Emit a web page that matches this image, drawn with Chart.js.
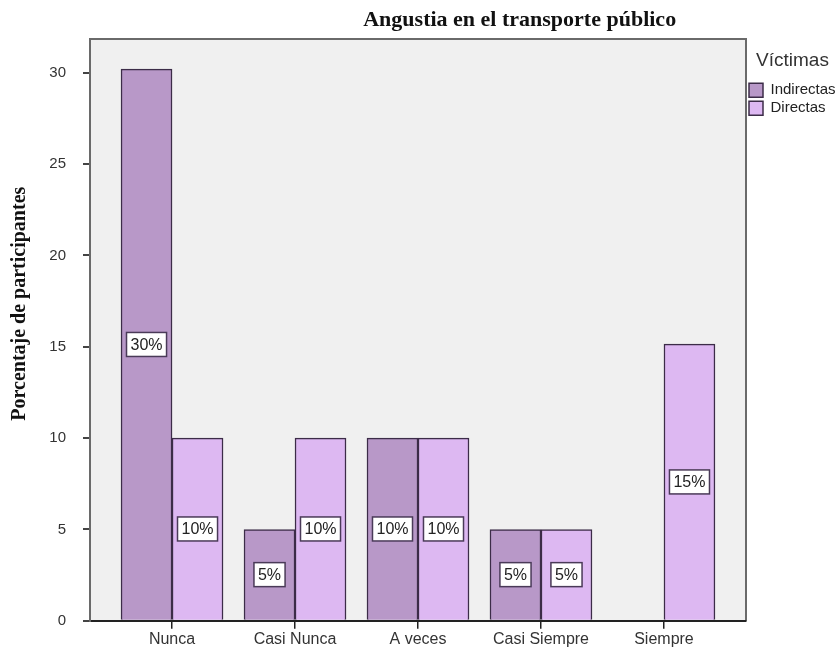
<!DOCTYPE html>
<html><head><meta charset="utf-8">
<script src="https://cdn.jsdelivr.net/npm/chart.js@4"></script>
<style>html,body{margin:0;padding:0;background:#fff}</style>
</head><body>
<canvas id="c" width="839" height="650"></canvas>
<script>
const categories = ['Nunca', 'Casi Nunca', 'A veces', 'Casi Siempre', 'Siempre'];
const indirectas = [30.2, 5, 10, 5, 0];
const directas = [10, 10, 10, 5, 15.15];
const indirectasLabels = ['30%', '5%', '10%', '5%', ''];
const directasLabels = ['10%', '10%', '10%', '5%', '15%'];
const yTicks = [0, 5, 10, 15, 20, 25, 30];
const chartTitle = 'Angustia en el transporte público';
const legendTitle = 'Víctimas';
const yTitle = 'Porcentaje de participantes';

const sans = "'Liberation Sans', Arial, sans-serif";
const serif = "'Liberation Serif', 'Times New Roman', serif";

const bgPlugin = {
  id: 'plotBg',
  beforeDraw(chart) {
    const {ctx, chartArea: a} = chart;
    ctx.save();
    ctx.fillStyle = '#f0f0f0';
    ctx.fillRect(a.left, a.top, a.right - a.left, a.bottom - a.top);
    ctx.strokeStyle = '#6a6a6a';
    ctx.lineWidth = 2;
    ctx.beginPath();
    ctx.moveTo(a.left, a.bottom);
    ctx.lineTo(a.left, a.top);
    ctx.lineTo(a.right, a.top);
    ctx.lineTo(a.right, a.bottom);
    ctx.stroke();
    ctx.restore();
  },
  afterDraw(chart) {
    const {ctx, chartArea: a} = chart;
    ctx.save();
    ctx.font = 'bold 22px ' + serif;
    ctx.fillStyle = '#111';
    ctx.textAlign = 'center';
    ctx.textBaseline = 'middle';
    ctx.fillText(chartTitle, a.left + (a.right - a.left) * 0.655, 20);
    // y-axis title
    ctx.translate(20, a.top + (a.bottom - a.top) * 0.455);
    ctx.rotate(-Math.PI / 2);
    ctx.font = 'bold 20px ' + serif;
    ctx.fillText(yTitle, 0, 0);
    ctx.restore();
  }
};

const labelPlugin = {
  id: 'barLabels',
  afterDatasetsDraw(chart) {
    const {ctx} = chart;
    const sets = [indirectasLabels, directasLabels];
    ctx.save();
    ctx.font = '16px ' + sans;
    ctx.textAlign = 'center';
    ctx.textBaseline = 'middle';
    sets.forEach((labels, di) => {
      const meta = chart.getDatasetMeta(di);
      meta.data.forEach((el, i) => {
        const t = labels[i];
        if (!t) return;
        const cx = el.x;
        const cy = (el.y + el.base) / 2;
        const w = ctx.measureText(t).width + 8;
        const h = 24;
        ctx.fillStyle = '#ffffff';
        ctx.fillRect(cx - w / 2, cy - h / 2, w, h);
        ctx.strokeStyle = '#4a3a58';
        ctx.lineWidth = 1.5;
        ctx.strokeRect(cx - w / 2, cy - h / 2, w, h);
        ctx.fillStyle = '#222';
        ctx.fillText(t, cx, cy + 1);
      });
    });
    ctx.restore();
  }
};

new Chart(document.getElementById('c'), {
  type: 'bar',
  data: {
    datasets: [
      {
        label: 'Indirectas',
        data: indirectas.map((v, i) => ({x: i, y: v})),
        backgroundColor: '#b898c8',
        borderColor: '#3c2c48',
        borderWidth: 1.5,
        barThickness: 51
      },
      {
        label: 'Directas',
        data: directas.map((v, i) => ({x: i, y: v})),
        backgroundColor: '#ddb8f2',
        borderColor: '#3c2c48',
        borderWidth: 1.5,
        barThickness: 51
      }
    ]
  },
  options: {
    responsive: false,
    animation: false,
    layout: {padding: {top: 39, right: 0, left: 0, bottom: 0}},
    plugins: {
      legend: {
        position: 'right',
        align: 'start',
        maxWidth: 93,
        title: {display: true, text: legendTitle, color: '#333', font: {family: sans, size: 19}, padding: {top: 12, bottom: 6}},
        labels: {
          boxWidth: 14, boxHeight: 14, padding: 3, color: '#222',
          font: {family: sans, size: 15}
        }
      },
      tooltip: {enabled: false}
    },
    scales: {
      x: {
        type: 'linear',
        offset: false,
        min: -0.667, max: 4.667,
        afterBuildTicks: s => { s.ticks = categories.map((_, i) => ({value: i})); },
        ticks: {callback: v => categories[v], color: '#333', font: {family: sans, size: 16}, padding: 1, maxRotation: 0, autoSkip: false},
        grid: {offset: false, drawOnChartArea: false, drawTicks: true, tickLength: 8, color: '#222', lineWidth: 1.5},
        border: {display: true, color: '#222', width: 2}
      },
      y: {
        min: 0, max: 31.85,
        afterBuildTicks: s => { s.ticks = yTicks.map(v => ({value: v})); },
        afterFit: s => { s.width = 90; },
        ticks: {color: '#333', font: {family: sans, size: 15}, padding: 17},
        grid: {drawOnChartArea: false, drawTicks: true, tickLength: 7, color: '#444', lineWidth: 2},
        border: {display: true, color: '#6a6a6a', width: 2},
        title: {display: false}
      }
    }
  },
  plugins: [bgPlugin, labelPlugin]
});
</script>
</body></html>
